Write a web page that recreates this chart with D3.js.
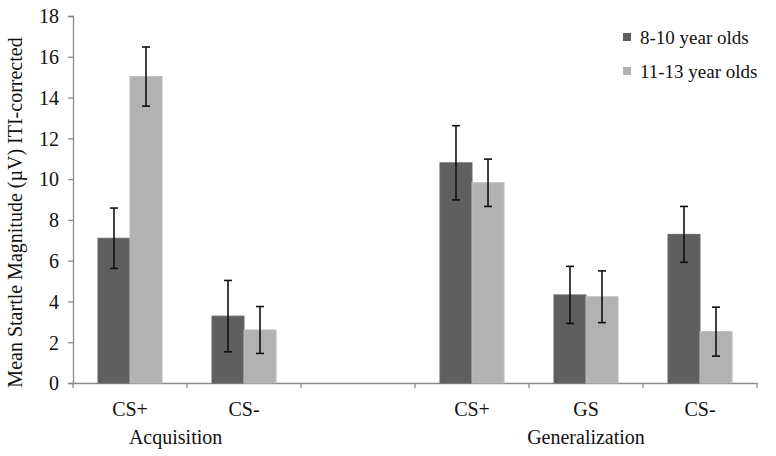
<!DOCTYPE html>
<html>
<head>
<meta charset="utf-8">
<script src="https://cdn.jsdelivr.net/npm/d3@7"></script>
<style>
  body { margin: 0; background: #fff; }
  svg text { font-family: "Liberation Serif", "DejaVu Serif", serif !important; fill: #111; }
</style>
</head>
<body>
<div id="chart-area"></div>
<script>

// Data
let phases = ["Acquisition", "Generalization"];
let slots = ["acq-CS+", "acq-CS-", "gap", "gen-CS+", "gen-GS", "gen-CS-"];
let slotLabels = ["CS+", "CS-", "", "CS+", "GS", "CS-"];
let seriesNames = ["8-10 year olds", "11-13 year olds"];
let younger = [7.1, 3.28, null, 10.8, 4.32, 7.29];
let youngerErr = [1.48, 1.75, null, 1.82, 1.4, 1.37];
let older = [15.03, 2.6, null, 9.82, 4.23, 2.52];
let olderErr = [1.45, 1.15, null, 1.16, 1.27, 1.2];
let yTicks = [0, 2, 4, 6, 8, 10, 12, 14, 16, 18];

let colors = ["#5f5f5f", "#b2b2b2"];
let serif = "'Liberation Serif', 'DejaVu Serif', serif";

// SVG drawing area
let margin = {top: 16, right: 19, bottom: 73, left: 73};
let width = 776 - margin.left - margin.right,
    height = 456 - margin.top - margin.bottom;

let svg = d3.select("#chart-area").append("svg")
    .attr("width", width + margin.left + margin.right)
    .attr("height", height + margin.top + margin.bottom)
    .attr("font-family", serif)
    .append("g")
    .attr("transform", "translate(" + margin.left + "," + margin.top + ")");

// scales
let x = d3.scaleBand()
    .domain(slots)
    .range([0, width])
    .padding(0);

let xSub = d3.scaleBand()
    .domain([0, 1])
    .range([0, x.bandwidth()])
    .paddingInner(0)
    .paddingOuter(0.78);

let y = d3.scaleLinear()
    .domain([0, 18])
    .range([height, 0]);

// y-axis
let yAxis = d3.axisLeft(y)
    .tickValues(yTicks)
    .tickSize(5)
    .tickPadding(9);

let yAxisGroup = svg.append("g")
    .attr("class", "axis y-axis")
    .call(yAxis)
    .attr("font-family", serif);

yAxisGroup.selectAll("text")
    .style("font-size", "20px")
    .attr("dy", "0.34em");

// x-axis: labels under each slot, ticks on slot boundaries
let xAxis = d3.axisBottom(x)
    .tickSize(0)
    .tickPadding(19)
    .tickFormat((d, i) => slotLabels[i]);

let xAxisGroup = svg.append("g")
    .attr("class", "axis x-axis")
    .attr("transform", "translate(0," + height + ")")
    .call(xAxis)
    .attr("font-family", serif);

xAxisGroup.selectAll("text")
    .style("font-size", "20px");

let boundaries = slots.map(d => x(d)).concat([x(slots[slots.length - 1]) + x.bandwidth()]);
xAxisGroup.selectAll(".boundary")
    .data(boundaries)
    .enter().append("line")
    .attr("class", "boundary")
    .attr("x1", d => d).attr("x2", d => d)
    .attr("y1", 0).attr("y2", 5);

svg.selectAll(".axis path, .axis line")
    .attr("stroke", "#8a8a8a")
    .attr("stroke-width", 1.3);

// phase labels
let phaseCenter = {
    "Acquisition": x("acq-CS+") + x.bandwidth() * 0.9,
    "Generalization": x("gen-GS") + x.bandwidth() / 2
};
svg.selectAll(".phase-label")
    .data(phases)
    .enter().append("text")
    .attr("class", "phase-label")
    .attr("x", d => phaseCenter[d])
    .attr("y", height + 61)
    .attr("text-anchor", "middle")
    .style("font-size", "20px")
    .text(d => d);

// bars
let seriesData = [younger, older];
let seriesErr = [youngerErr, olderErr];

seriesData.forEach((values, s) => {
    let rows = slots.map((slot, i) => ({slot: slot, value: values[i], err: seriesErr[s][i]}))
        .filter(d => d.value !== null);

    svg.selectAll(".bar-" + s)
        .data(rows)
        .enter().append("rect")
        .attr("class", "bar-" + s)
        .attr("x", d => x(d.slot) + xSub(s))
        .attr("width", xSub.bandwidth())
        .attr("y", d => y(d.value))
        .attr("height", d => y(0) - y(d.value))
        .attr("fill", colors[s])
        .attr("stroke", s === 0 ? "#6a6a6a" : "#bcbcbc")
        .attr("stroke-width", 1);

    // error bars
    let errG = svg.selectAll(".err-" + s)
        .data(rows)
        .enter().append("g")
        .attr("class", "err-" + s)
        .attr("transform", d => "translate(" + (x(d.slot) + xSub(s) + xSub.bandwidth() / 2) + ",0)");

    errG.append("line")
        .attr("x1", 0).attr("x2", 0)
        .attr("y1", d => y(d.value + d.err))
        .attr("y2", d => y(d.value - d.err));

    errG.append("line")
        .attr("x1", -4).attr("x2", 4)
        .attr("y1", d => y(d.value + d.err))
        .attr("y2", d => y(d.value + d.err));

    errG.append("line")
        .attr("x1", -4).attr("x2", 4)
        .attr("y1", d => y(d.value - d.err))
        .attr("y2", d => y(d.value - d.err));

    errG.selectAll("line")
        .attr("stroke", "#111")
        .attr("stroke-width", 1.6);
});

// y axis title
svg.append("text")
    .attr("transform", "translate(" + (-51) + "," + (height / 2 + 13) + ") rotate(-90)")
    .attr("text-anchor", "middle")
    .style("font-size", "20px")
    .text("Mean Startle Magnitude (\u00b5V) ITI-corrected");

// legend
let legend = svg.selectAll(".legend")
    .data(seriesNames)
    .enter().append("g")
    .attr("class", "legend")
    .attr("transform", (d, i) => "translate(" + (627 - margin.left) + "," + (37 - margin.top + i * 34) + ")");

legend.append("rect")
    .attr("x", -4).attr("y", -4)
    .attr("width", 8).attr("height", 8)
    .attr("fill", (d, i) => colors[i]);

legend.append("text")
    .attr("x", 13)
    .attr("dy", "0.35em")
    .style("font-size", "19px")
    .text(d => d);

</script>
</body>
</html>
